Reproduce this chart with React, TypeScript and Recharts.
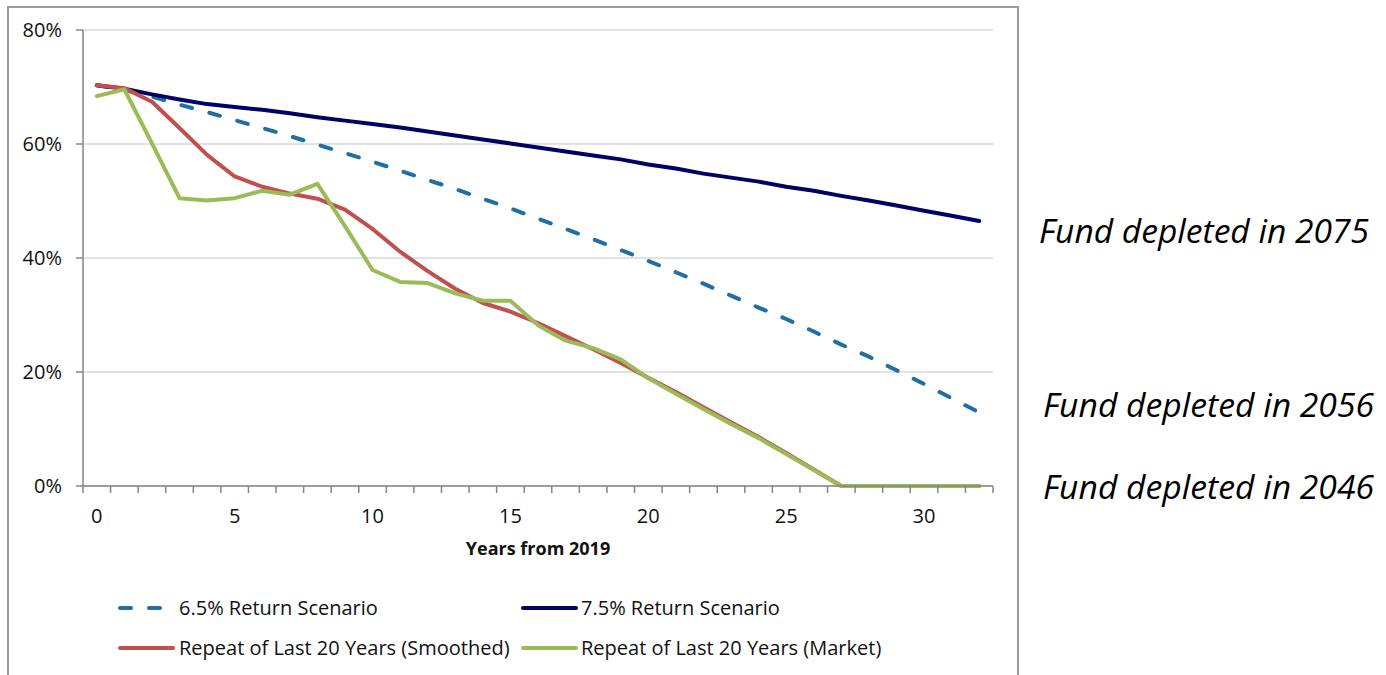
import React from 'react';
import { LineChart, Line, XAxis, YAxis, CartesianGrid } from 'recharts';

// Years from 2019
const years = [
  0, 1, 2, 3, 4, 5, 6, 7, 8, 9, 10, 11, 12, 13, 14, 15, 16, 17, 18, 19, 20,
  21, 22, 23, 24, 25, 26, 27, 28, 29, 30, 31, 32,
];

// Funded ratio (%) under each scenario
const return65 = [
  70.3, 69.5, 68.3, 66.9, 65.6, 64.2, 62.8, 61.4, 59.9, 58.4, 56.9, 55.3, 53.7,
  52.1, 50.4, 48.7, 46.9, 45.1, 43.3, 41.4, 39.5, 37.5, 35.5, 33.4, 31.3, 29.3,
  27.1, 24.8, 22.7, 20.3, 17.9, 15.4, 12.9,
];
const return75 = [
  70.3, 69.7, 68.7, 67.8, 67.0, 66.5, 66.0, 65.4, 64.7, 64.1, 63.5, 62.9, 62.2,
  61.5, 60.8, 60.1, 59.4, 58.7, 58.0, 57.3, 56.4, 55.7, 54.8, 54.1, 53.4, 52.5,
  51.8, 50.9, 50.1, 49.2, 48.3, 47.4, 46.5,
];
const smoothed = [
  70.3, 69.8, 67.4, 62.8, 58.1, 54.3, 52.5, 51.3, 50.4, 48.5, 45.1, 41.1, 37.7,
  34.6, 32.1, 30.6, 28.6, 26.3, 24.0, 21.6, 19.0, 16.5, 13.8, 11.2, 8.6, 5.8,
  2.9, 0, 0, 0, 0, 0, 0,
];
const market = [
  68.4, 69.6, 60.1, 50.5, 50.1, 50.5, 51.8, 51.1, 53.0, 45.6, 37.9, 35.8, 35.6,
  33.8, 32.5, 32.5, 28.2, 25.5, 24.2, 22.2, 18.9, 16.2, 13.5, 10.9, 8.4, 5.6,
  2.8, 0, 0, 0, 0, 0, 0,
];

const yTicks = [0, 20, 40, 60, 80];
const xLabelTicks = [0, 5, 10, 15, 20, 25, 30];

const seriesKeys = ['r65', 'r75', 'smoothed', 'market'];
const seriesNames = [
  '6.5% Return Scenario',
  '7.5% Return Scenario',
  'Repeat of Last 20 Years (Smoothed)',
  'Repeat of Last 20 Years (Market)',
];
const seriesColors = ['#1f6ea6', '#000066', '#c0504d', '#9bbb59'];
const seriesDashes = ['11 18', undefined, undefined, undefined];

const notes = ['Fund depleted in 2075', 'Fund depleted in 2056', 'Fund depleted in 2046'];

const data = years.map((year, i) => ({
  year,
  r65: return65[i],
  r75: return75[i],
  smoothed: smoothed[i],
  market: market[i],
}));

// Tick marks sit between the years; labels sit on the years
const boundaryTicks = years.map((y) => y - 0.5).concat(years[years.length - 1] + 0.5);
const xTicks = [...boundaryTicks, ...xLabelTicks].sort((a, b) => a - b);

const FONT = '"Open Sans", sans-serif';
const AXIS = '#868686';

const XTick = (props: any) => {
  const { x, y, payload } = props;
  const v = payload.value;
  if (!Number.isInteger(v)) {
    return <line x1={x} x2={x} y1={y - 7} y2={y} stroke={AXIS} strokeWidth={1.5} />;
  }
  return (
    <text x={x} y={y + 30} textAnchor="middle" fontFamily={FONT} fontSize={20} fill="#111">
      {v}
    </text>
  );
};

export default function App() {
  return (
    <div
      style={{
        position: 'absolute',
        left: 0,
        top: 0,
        width: 1386,
        height: 675,
        overflow: 'hidden',
        background: '#fff',
      }}
    >
      <div
        style={{
          position: 'absolute',
          left: 7,
          top: 6,
          width: 1008,
          height: 720,
          border: '2px solid #9a9a9a',
        }}
      />
      <div style={{ position: 'absolute', left: 0, top: 0 }}>
        <LineChart
          width={1386}
          height={675}
          data={data}
          margin={{ top: 30, right: 393, bottom: 114, left: 0 }}
        >
          <CartesianGrid vertical={false} stroke="#d9d9d9" strokeWidth={1.5} />
          <XAxis
            dataKey="year"
            type="number"
            domain={[-0.5, 32.5]}
            ticks={xTicks}
            interval={0}
            tickLine={false}
            tickSize={7}
            tickMargin={0}
            tick={<XTick />}
            axisLine={{ stroke: AXIS, strokeWidth: 1.5 }}
            height={75}
            label={{
              value: 'Years from 2019',
              position: 'insideBottom',
              offset: 6,
              style: { fontFamily: FONT, fontSize: 18, fontWeight: 700, fill: '#111' },
            }}
          />
          <YAxis
            type="number"
            domain={[0, 80]}
            ticks={yTicks}
            tickFormatter={(v: number) => `${v}%`}
            width={83}
            tickSize={7}
            tickMargin={14}
            axisLine={{ stroke: AXIS, strokeWidth: 1.5 }}
            tickLine={{ stroke: AXIS, strokeWidth: 1.5 }}
            tick={{ fontFamily: FONT, fontSize: 20, fill: '#111' }}
          />
          {seriesKeys.map((key, i) => (
            <Line
              key={key}
              type="linear"
              dataKey={key}
              name={seriesNames[i]}
              stroke={seriesColors[i]}
              strokeWidth={4}
              strokeDasharray={seriesDashes[i]}
              strokeLinecap="round"
              strokeLinejoin="round"
              dot={false}
              activeDot={false}
              isAnimationActive={false}
            />
          ))}
        </LineChart>
      </div>
      <svg
        width={1386}
        height={675}
        style={{ position: 'absolute', left: 0, top: 0, pointerEvents: 'none' }}
      >
        {/* legend */}
        {seriesKeys.map((key, i) => {
          const col = i % 2;
          const row = Math.floor(i / 2);
          const x0 = col === 0 ? 120 : 523;
          const x1 = col === 0 ? 173 : 576;
          const tx = col === 0 ? 179 : 581;
          const ly = row === 0 ? 608 : 648;
          return (
            <g key={key}>
              <line
                x1={x0}
                x2={x1}
                y1={ly}
                y2={ly}
                stroke={seriesColors[i]}
                strokeWidth={4}
                strokeDasharray={seriesDashes[i]}
                strokeLinecap="round"
              />
              <text x={tx} y={ly + 7} fontFamily={FONT} fontSize={20} fill="#111">
                {seriesNames[i]}
              </text>
            </g>
          );
        })}
        {/* depletion notes */}
        <text
          x={1039}
          y={243}
          fontFamily={FONT}
          fontSize={33}
          fontStyle="italic"
          fill="#000"
          textLength={330}
          lengthAdjust="spacingAndGlyphs"
        >
          {notes[0]}
        </text>
        <text
          x={1043}
          y={417}
          fontFamily={FONT}
          fontSize={33}
          fontStyle="italic"
          fill="#000"
          textLength={331}
          lengthAdjust="spacingAndGlyphs"
        >
          {notes[1]}
        </text>
        <text
          x={1043}
          y={499}
          fontFamily={FONT}
          fontSize={33}
          fontStyle="italic"
          fill="#000"
          textLength={331}
          lengthAdjust="spacingAndGlyphs"
        >
          {notes[2]}
        </text>
      </svg>
    </div>
  );
}
